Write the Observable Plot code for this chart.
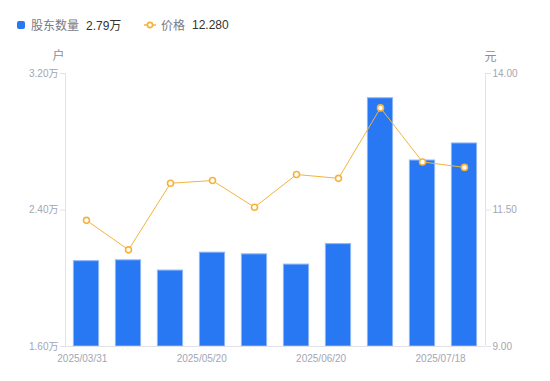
<!DOCTYPE html>
<html>
<head>
<meta charset="utf-8">
<script src="https://cdn.jsdelivr.net/npm/d3@7"></script>
<script src="https://cdn.jsdelivr.net/npm/@observablehq/plot@0.6"></script>
<style>
  html, body { margin: 0; padding: 0; background: #fff; }
  body { width: 550px; height: 381px; overflow: hidden; font-family: "Liberation Sans", "Noto Sans CJK SC", sans-serif; }
  #legend { height: 40px; position: relative; font-size: 12px; }
  .item { position: absolute; top: 16px; display: flex; align-items: center; white-space: nowrap; }
  .name { color: #777a86; margin-right: 7px; font-family: "Noto Sans CJK SC", sans-serif; }
  .val { color: #333; }
  .sq { width: 8px; height: 8px; background: #2878f4; border-radius: 2px; margin-right: 6px; }
  svg { display: block; }
</style>
</head>
<body>
<div id="legend">
  <div class="item" style="left:17px"><span class="sq"></span><span class="name">股东数量</span><span class="val" id="v1"></span></div>
  <div class="item" style="left:144px">
    <svg width="12" height="8" style="margin-right:5px"><line x1="0" y1="4" x2="12" y2="4" stroke="#f5b33e" stroke-width="1.5"/><circle cx="6" cy="4" r="2.6" fill="#fff" stroke="#f5b33e" stroke-width="1.6"/></svg>
    <span class="name">价格</span><span class="val" id="v2"></span></div>
</div>
<div id="chart"></div>
<script>
const dates = ["2025/03/31","2025/04/10","2025/04/30","2025/05/20","2025/05/30","2025/06/10","2025/06/20","2025/06/30","2025/07/10","2025/07/18"];
const holders = [2.10, 2.105, 2.045, 2.15, 2.14, 2.08, 2.20, 3.055, 2.69, 2.79]; // 万户
const prices = [11.31, 10.77, 11.99, 12.04, 11.55, 12.15, 12.08, 13.37, 12.38, 12.28]; // 元
const xTickLabels = ["2025/03/31","2025/05/20","2025/06/20","2025/07/18"];
const leftTicks = [1.6, 2.4, 3.2];
const rightTicks = [9, 11.5, 14];

document.getElementById("v1").textContent = holders[holders.length-1].toFixed(2) + "万";
document.getElementById("v2").textContent = prices[prices.length-1].toFixed(3);

const yMin = 1.6, yMax = 3.2, pMin = 9, pMax = 14;
const p2y = p => yMin + (p - pMin) / (pMax - pMin) * (yMax - yMin);

const data = dates.map((d, i) => ({i, date: d, holders: holders[i], price: prices[i], py: p2y(prices[i])}));
// tick labels spread evenly across the axis
const n = xTickLabels.length;
const xLab = xTickLabels.map((t, j) => ({t, pos: -0.1 + j * (dates.length - 1 - 0.57 + 0.1) / (n - 1)}));

const tickColor = "#e2e3e8";
const textColor = "#a3a6b4";

const chart = Plot.plot({
  width: 550,
  height: 341,
  marginLeft: 65,
  marginRight: 65,
  marginTop: 33,
  marginBottom: 35,
  style: {fontFamily: "'Liberation Sans', 'Noto Sans CJK SC', sans-serif", fontSize: "10px", background: "#fff"},
  x: {domain: [-0.5, dates.length - 0.5], axis: null},
  y: {domain: [yMin, yMax], axis: null},
  marks: [
    Plot.rectY(data, {x1: d => d.i - 0.3, x2: d => d.i + 0.3, y1: yMin, y2: "holders", fill: "#2878f4", stroke: "#8db6f7", strokeWidth: 1, inset: 0}),
    Plot.ruleY([yMin], {stroke: tickColor}),
    Plot.ruleX([-0.5], {stroke: tickColor}),
    Plot.ruleX([dates.length - 0.5], {stroke: tickColor}),
    Plot.axisY({anchor: "left", ticks: leftTicks, tickFormat: d => d.toFixed(2) + "万", tickSize: 5, tickPadding: 2, stroke: tickColor, fill: textColor, label: null, fontSize: 10}),
    Plot.axisY({anchor: "right", ticks: rightTicks.map(p2y), tickFormat: d => (pMin + (d - yMin) / (yMax - yMin) * (pMax - pMin)).toFixed(2), tickSize: 5, tickPadding: 2, stroke: tickColor, fill: textColor, label: null, fontSize: 10}),
    Plot.line(data, {x: "i", y: "py", stroke: "#f5b33e", strokeWidth: 1}),
    Plot.dot(data, {x: "i", y: "py", r: 3, fill: "#fff", stroke: "#f5b33e", strokeWidth: 1.6}),
    Plot.text(xLab, {x: "pos", frameAnchor: "bottom", lineAnchor: "middle", text: "t", dy: 12, fill: textColor, fontSize: 10}),
    Plot.text(["户"], {frameAnchor: "top-left", textAnchor: "middle", lineAnchor: "middle", dx: -7, dy: -17, fill: "#8a8d99", fontSize: 12, fontFamily: "Noto Sans CJK SC"}),
    Plot.text(["元"], {frameAnchor: "top-right", textAnchor: "middle", lineAnchor: "middle", dx: 5, dy: -16, fill: "#8a8d99", fontSize: 12, fontFamily: "Noto Sans CJK SC"})
  ]
});
document.getElementById("chart").appendChild(chart);
</script>
</body>
</html>
